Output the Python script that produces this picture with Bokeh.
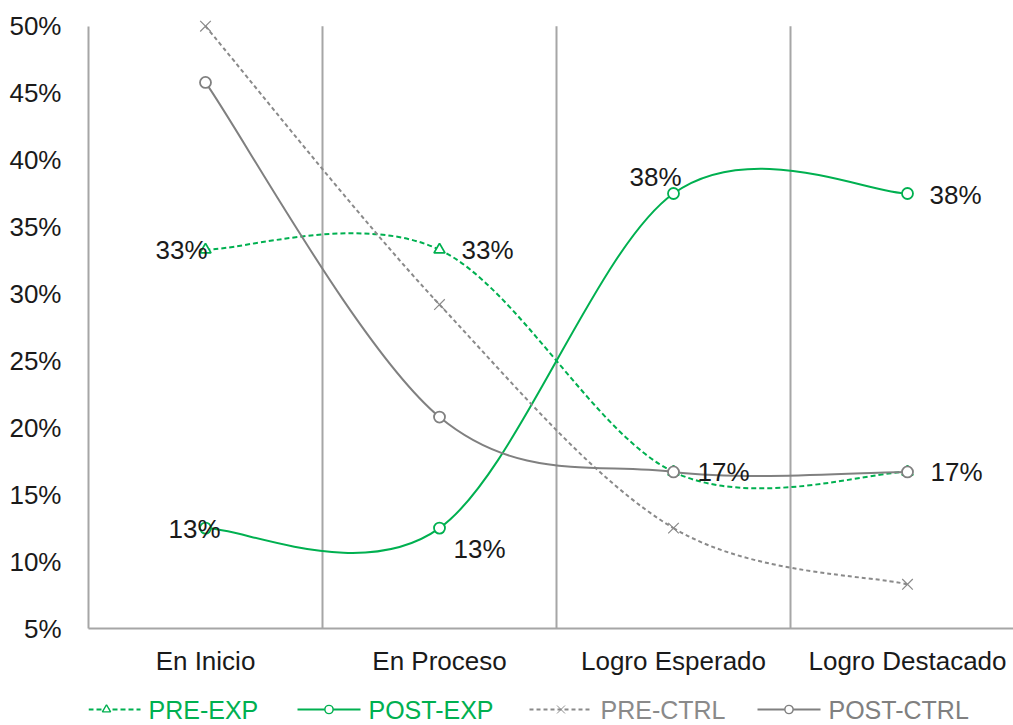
from bokeh.plotting import figure
from bokeh.layouts import column
from bokeh.models import (FixedTicker, PrintfTickFormatter, ColumnDataSource,
                          Range1d)
from bokeh.core.properties import value
from bokeh.embed import file_html
from bokeh.resources import INLINE

# Achievement levels (x categories)
categories = ["En Inicio", "En Proceso", "Logro Esperado", "Logro Destacado"]

# Share of students per level, in percent
pre_exp = [33.3, 33.3, 16.7, 16.7]
post_exp = [12.5, 12.5, 37.5, 37.5]
pre_ctrl = [50.0, 29.2, 12.5, 8.3]
post_ctrl = [45.8, 20.8, 16.7, 16.7]

y_ticks = [5, 10, 15, 20, 25, 30, 35, 40, 45, 50]

GREEN = "#00b050"
GRAY_DARK = "#808080"
GRAY_LIGHT = "#8a8a8a"
AXIS_GRAY = "#a6a6a6"
TEXT = "#1a1a1a"
FONT = "Liberation Sans"
FS = "26px"
FS_LEGEND = "25px"

xc = [i + 0.5 for i in range(len(categories))]
y_lo, y_hi = y_ticks[0], y_ticks[-1]

# a little headroom above the top tick so markers there are not clipped
p = figure(width=1013, height=680, output_backend="svg", toolbar_location=None,
           x_range=Range1d(0, 925 / 234), y_range=Range1d(y_lo, y_hi + 0.8),
           min_border_left=88, min_border_right=0, min_border_top=15,
           min_border_bottom=52)
p.outline_line_color = None
p.background_fill_color = "white"

# axes
p.yaxis.ticker = FixedTicker(ticks=y_ticks)
p.yaxis.bounds = (y_lo, y_hi)
p.yaxis.formatter = PrintfTickFormatter(format="%d%%")
p.yaxis.major_tick_line_color = None
p.yaxis.minor_tick_line_color = None
p.yaxis.axis_line_color = AXIS_GRAY
p.yaxis.axis_line_width = 2
p.yaxis.major_label_standoff = 21
p.yaxis.major_label_text_font = FONT
p.yaxis.major_label_text_font_size = FS
p.yaxis.major_label_text_color = TEXT

p.xaxis.ticker = FixedTicker(ticks=xc)
p.xaxis.major_label_overrides = {x: c for x, c in zip(xc, categories)}
p.xaxis.major_tick_line_color = None
p.xaxis.minor_tick_line_color = None
p.xaxis.axis_line_color = AXIS_GRAY
p.xaxis.axis_line_width = 2
p.xaxis.major_label_standoff = 11
p.xaxis.major_label_text_font = FONT
p.xaxis.major_label_text_font_size = FS
p.xaxis.major_label_text_color = TEXT

p.xgrid.grid_line_color = None
p.ygrid.grid_line_color = None

# vertical separators between categories, spanning the tick range
bounds_x = [i + 1 for i in range(len(categories))]
p.segment(x0=bounds_x, y0=[y_lo] * len(bounds_x), x1=bounds_x,
          y1=[y_hi] * len(bounds_x), line_color=AXIS_GRAY, line_width=2)


def smooth(xs, ys):
    """Cubic Bezier segments through the points (Catmull-Rom style, 1/6 tension)."""
    n = len(xs)
    d = dict(x0=[], y0=[], x1=[], y1=[], cx0=[], cy0=[], cx1=[], cy1=[])
    for i in range(n - 1):
        a = i - 1 if i > 0 else i
        b = i + 2 if i + 2 < n else i + 1
        d["x0"].append(xs[i]); d["y0"].append(ys[i])
        d["x1"].append(xs[i + 1]); d["y1"].append(ys[i + 1])
        d["cx0"].append(xs[i] + (xs[i + 1] - xs[a]) / 6)
        d["cy0"].append(ys[i] + (ys[i + 1] - ys[a]) / 6)
        d["cx1"].append(xs[i + 1] - (xs[b] - xs[i]) / 6)
        d["cy1"].append(ys[i + 1] - (ys[b] - ys[i]) / 6)
    return ColumnDataSource(d)


# name, values, colour, dash, marker, marker size, marker outline width
series = [
    ("PRE-EXP", pre_exp, GREEN, "5 3", "triangle", 11, 1.8),
    ("POST-EXP", post_exp, GREEN, "solid", "circle", 11, 1.8),
    ("PRE-CTRL", pre_ctrl, GRAY_LIGHT, "4 3", "x", 15, 1.2),
    ("POST-CTRL", post_ctrl, GRAY_DARK, "solid", "circle", 11, 1.8),
]

# legend strip under the chart; its frame lines up with the chart frame,
# so the x range is given in page pixels from 88 to 1013 (y pointing down)
leg = figure(width=1013, height=45, output_backend="svg", toolbar_location=None,
             x_range=Range1d(88, 1013), y_range=Range1d(45, 0),
             min_border_left=88, min_border_right=0, min_border_top=0,
             min_border_bottom=0)
leg.outline_line_color = None
leg.xaxis.visible = False
leg.yaxis.visible = False
leg.grid.visible = False
leg.background_fill_color = "white"

key_left = [72, 297, 529, 757]
key_width = [68, 63, 63, 63]
key_y = 29

for (name, vals, color, dash, marker, msize, mlw), kx, kw in zip(
        series, key_left, key_width):
    p.bezier(x0="x0", y0="y0", x1="x1", y1="y1", cx0="cx0", cy0="cy0",
             cx1="cx1", cy1="cy1", source=smooth(xc, vals),
             line_color=color, line_width=2, line_dash=dash)
    p.scatter(xc, vals, marker=marker, size=msize, line_color=color,
              line_width=mlw, fill_color="white")
    # legend key: line sample, small marker, coloured label
    leg.line([kx, kx + kw], [key_y, key_y], line_color=color, line_width=2,
             line_dash=dash)
    leg.scatter([kx + kw / 2], [key_y], marker=marker, size=msize * 0.75,
                line_color=color, line_width=mlw * 0.8, fill_color="white")
    leg.text([kx + kw + 8], [key_y], text=[name], text_align="left",
             text_baseline="middle", text_font=value(FONT),
             text_font_size=FS_LEGEND, text_color=color)


def pct(v):
    return "%d%%" % int(v + 0.5)


# data labels for the experimental group
label_specs = [
    (pre_exp, ["right", "left", "left", "left"], [2, 22, 24, 23], [0, 0, 0, 0]),
    (post_exp, ["center", "left", "right", "left"], [-11, 14, 8, 22], [1, 21, -17, 1]),
]
for vals, aligns, dxs, dys in label_specs:
    src = ColumnDataSource(dict(x=xc, y=vals, t=[pct(v) for v in vals],
                                a=aligns, dx=dxs, dy=dys))
    p.text(x="x", y="y", text="t", source=src, text_align="a",
           text_baseline="middle", x_offset="dx", y_offset="dy",
           text_font=value(FONT), text_font_size=FS, text_color=TEXT)

open("out.html", "w").write(file_html(column(p, leg, spacing=0), INLINE))
